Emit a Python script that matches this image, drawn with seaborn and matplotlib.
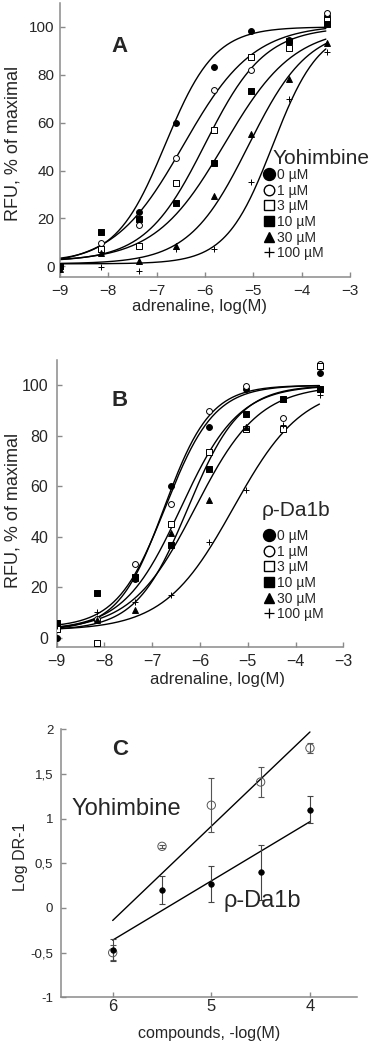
import numpy as np
import pandas as pd
import matplotlib
matplotlib.use("Agg")
import matplotlib.pyplot as plt
import seaborn as sns
from matplotlib.lines import Line2D

sns.set_theme(style="ticks")
plt.rcParams["font.family"] = ["Liberation Sans", "DejaVu Sans"]

# ---------------- data ----------------
conc_labels = ["0 µM", "1 µM", "3 µM", "10 µM", "30 µM", "100 µM"]
log_adr = [-9.0, -8.15, -7.37, -6.6, -5.82, -5.04, -4.26, -3.48]

# Panel A: Yohimbine
yoh_0 = [0.0, 7.0, 22.5, 59.8, 83.2, 98.2, 94.7, 104.7]
yoh_1 = [0.0, 9.7, 17.2, 45.4, 73.5, 81.8, 94.0, 105.9]
yoh_3 = [0.0, 7.0, 8.5, 34.9, 57.0, 87.3, 91.0, 102.8]
yoh_10 = [0.0, 14.3, 19.7, 26.5, 43.0, 73.3, 94.3, 101.3]
yoh_30 = [-1.0, 5.4, 2.1, 8.4, 29.3, 55.3, 78.2, 93.3]
yoh_100 = [0.0, -0.3, -2.0, 7.3, 7.0, 35.3, 70.0, 89.5]
# fitted curve parameters (bottom, top, logEC50, hill)
yoh_bottom = [2, 0, 2, 2, 1, 1]
yoh_top = [100, 101, 100, 100, 100, 100]
yoh_ec50 = [-6.82, -6.45, -6.0, -5.6, -5.1, -4.6]
yoh_hill = [0.85, 0.6, 0.7, 0.6, 0.7, 0.9]

# Panel B: rho-Da1b
rho_0 = [0.0, 7.1, 23.5, 60.1, 83.5, 98.4, 94.7, 105.0]
rho_1 = [4.0, 7.5, 29.2, 53.0, 89.9, 99.6, 87.1, 108.5]
rho_3 = [3.7, -2.2, 23.7, 45.0, 73.4, 82.5, 82.5, 107.5]
rho_10 = [5.9, 17.8, 24.2, 36.8, 66.7, 88.6, 94.5, 98.7]
rho_30 = [5.9, 7.2, 11.0, 41.6, 54.6, 83.6, 94.7, 98.7]
rho_100 = [4.6, 10.4, 14.3, 17.0, 37.8, 58.6, 84.2, 96.0]
rho_bottom = [3, 4, 3, 3, 3, 3]
rho_top = [100, 100, 100, 100, 100, 100]
rho_ec50 = [-6.75, -6.72, -6.4, -6.25, -6.1, -5.3]
rho_hill = [0.9, 0.85, 0.72, 0.8, 0.65, 0.6]

# Panel C: Schild plot
antag_conc = [6.0, 5.5, 5.0, 4.5, 4.0]
yoh_logdr = [-0.50, 0.69, 1.15, 1.41, 1.79]
yoh_err = [0.08, 0.02, 0.30, 0.17, 0.06]
rho_logdr = [-0.47, 0.20, 0.27, 0.40, 1.10]
rho_err = [0.12, 0.16, 0.20, 0.31, 0.15]
yoh_fit = (-0.14, 1.055)   # value at 6, slope per unit of -log(M) decrease
rho_fit = (-0.36, 0.663)
c_yticks = [-1, -0.5, 0, 0.5, 1, 1.5, 2]
c_yticklabels = ["-1", "-0,5", "0", "0,5", "1", "1,5", "2"]

# ---------------- styles ----------------
mstyles = [
    dict(marker="o", fc="black"),
    dict(marker="o", fc="white"),
    dict(marker="s", fc="white"),
    dict(marker="s", fc="black"),
    dict(marker="^", fc="black"),
    dict(marker="+", fc="black"),
]
GREY = "#8a8a8a"

W, H = 374, 1048
fig = plt.figure(figsize=(W / 100, H / 100), dpi=100)


def px_axes(l, r, t, b):
    return fig.add_axes([l / W, 1 - b / H, (r - l) / W, (b - t) / H])


def style(ax, xsize, ysize, xpad, ypad):
    sns.despine(ax=ax)
    for s in ("left", "bottom"):
        ax.spines[s].set_color(GREY)
        ax.spines[s].set_linewidth(1.1)
    ax.tick_params(axis="both", direction="in", length=3.5, width=1.0, color=GREY)
    ax.tick_params(axis="x", labelsize=xsize, pad=xpad)
    ax.tick_params(axis="y", labelsize=ysize, pad=ypad)
    ax.grid(False)


def sigmoid(x, b, t, ec, h):
    return b + (t - b) / (1 + 10 ** ((ec - x) * h))


def dose_panel(ax, series, bottoms, tops, ecs, hills, title, title_xy, leg_top):
    xgrid = np.linspace(-9, -3.5, 300)
    for i, vals in enumerate(series):
        yfit = sigmoid(xgrid, bottoms[i], tops[i], ecs[i], hills[i])
        sns.lineplot(x=xgrid, y=yfit, ax=ax, color="black", lw=1.0, zorder=2)
    for i, vals in enumerate(series):
        st = mstyles[i]
        df = pd.DataFrame({"x": log_adr, "y": vals})
        if st["marker"] == "+":
            sns.scatterplot(data=df, x="x", y="y", ax=ax, marker="+", color="black",
                            s=22, linewidth=0.7, zorder=3)
        else:
            sns.scatterplot(data=df, x="x", y="y", ax=ax, marker=st["marker"],
                            facecolor=st["fc"], edgecolor="black", s=18,
                            linewidth=0.7, zorder=3)
    ax.set_xlim(-9, -3)
    ax.set_xticks([-9, -8, -7, -6, -5, -4, -3])
    ax.set_yticks([0, 20, 40, 60, 80, 100])
    handles = []
    for st in mstyles:
        if st["marker"] == "+":
            handles.append(Line2D([], [], ls="", marker="+", color="black", ms=7, mew=0.9))
        else:
            ms = 8.6 if st["fc"] == "black" and st["marker"] == "o" else 7.6
            handles.append(Line2D([], [], ls="", marker=st["marker"], mfc=st["fc"],
                                  mec="black", ms=ms, mew=1.0))
    ax.legend(handles, conc_labels, loc="upper left",
              bbox_to_anchor=(263.4 / W, 1 - leg_top / H),
              bbox_transform=fig.transFigure, frameon=False, fontsize=10,
              handlelength=0.8, handletextpad=0.15, labelspacing=0.12,
              borderpad=0, borderaxespad=0)
    fig.text(title_xy[0] / W, 1 - title_xy[1] / H, title, fontsize=15,
             ha="left", va="baseline")
    ax.set_xlabel("adrenaline, log(M)", fontsize=12)
    ax.set_ylabel("RFU, % of maximal", fontsize=13)


# ---------------- panel A ----------------
axA = px_axes(60, 350, 3, 277)
dose_panel(axA, [yoh_0, yoh_1, yoh_3, yoh_10, yoh_30, yoh_100],
           yoh_bottom, yoh_top, yoh_ec50, yoh_hill, "Yohimbine", (273, 163.5), 168)
axA.set_ylim(-4.5, 110)
style(axA, 11, 11, 5, 4)
axA.xaxis.set_label_coords((200 - 60) / 290, (277 - 299) / 274)
axA.yaxis.set_label_coords((22 - 60) / 290, 0.487)
fig.text(120 / W, 1 - 47 / H, "A", fontsize=16, fontweight="bold", ha="center", va="center")

# ---------------- panel B ----------------
axB = px_axes(56.7, 343.3, 360, 647)
dose_panel(axB, [rho_0, rho_1, rho_3, rho_10, rho_30, rho_100],
           rho_bottom, rho_top, rho_ec50, rho_hill, "ρ-Da1b", (262, 516), 529)
axB.set_ylim(-3.6, 110)
style(axB, 11.5, 11.5, 5, 6)
axB.xaxis.set_label_coords((217.5 - 56.7) / 286.6, (647 - 672) / 287)
axB.yaxis.set_label_coords((22 - 56.7) / 286.6, 0.477)
fig.text(120 / W, 1 - 400 / H, "B", fontsize=16, fontweight="bold", ha="center", va="center")

# ---------------- panel C ----------------
axC = px_axes(61, 357, 729.3, 997.3)
xl = np.array([6.0, 4.0])
sns.lineplot(x=xl, y=yoh_fit[0] + yoh_fit[1] * (6 - xl), ax=axC, color="black", lw=1.0)
sns.lineplot(x=xl, y=rho_fit[0] + rho_fit[1] * (6 - xl), ax=axC, color="black", lw=1.0)
axC.errorbar(antag_conc, yoh_logdr, yerr=yoh_err, fmt="none", ecolor="#555555",
             elinewidth=0.8, capsize=2.2, capthick=0.8, zorder=2)
axC.errorbar(antag_conc, rho_logdr, yerr=rho_err, fmt="none", ecolor="#444444",
             elinewidth=0.8, capsize=2.2, capthick=0.8, zorder=2)
sns.scatterplot(x=antag_conc, y=yoh_logdr, ax=axC, marker="o", facecolor="none",
                edgecolor="#555555", s=36, linewidth=0.7, zorder=3)
sns.scatterplot(x=antag_conc, y=rho_logdr, ax=axC, marker="o", facecolor="black",
                edgecolor="black", s=16, linewidth=0.5, zorder=4)
axC.set_xlim(6.524, 3.523)
axC.set_ylim(-1, 2)
axC.set_xticks([6, 5, 4])
axC.set_yticks(c_yticks)
axC.set_yticklabels(c_yticklabels)
style(axC, 12, 9.5, 1.5, 5.5)
axC.set_xlabel("compounds, -log(M)", fontsize=11.5)
axC.set_ylabel("Log DR-1", fontsize=11.5)
axC.xaxis.set_label_coords((209.5 - 61) / 296, (997.3 - 1026) / 268)
axC.yaxis.set_label_coords((28 - 61) / 296, 0.523)
fig.text(120 / W, 1 - 749.5 / H, "C", fontsize=16, fontweight="bold", ha="center", va="center")
fig.text(72 / W, 1 - 815 / H, "Yohimbine", fontsize=17, ha="left", va="baseline")
fig.text(223 / W, 1 - 906.5 / H, "ρ-Da1b", fontsize=17, ha="left", va="baseline")

fig.savefig("out.png", dpi=100)
